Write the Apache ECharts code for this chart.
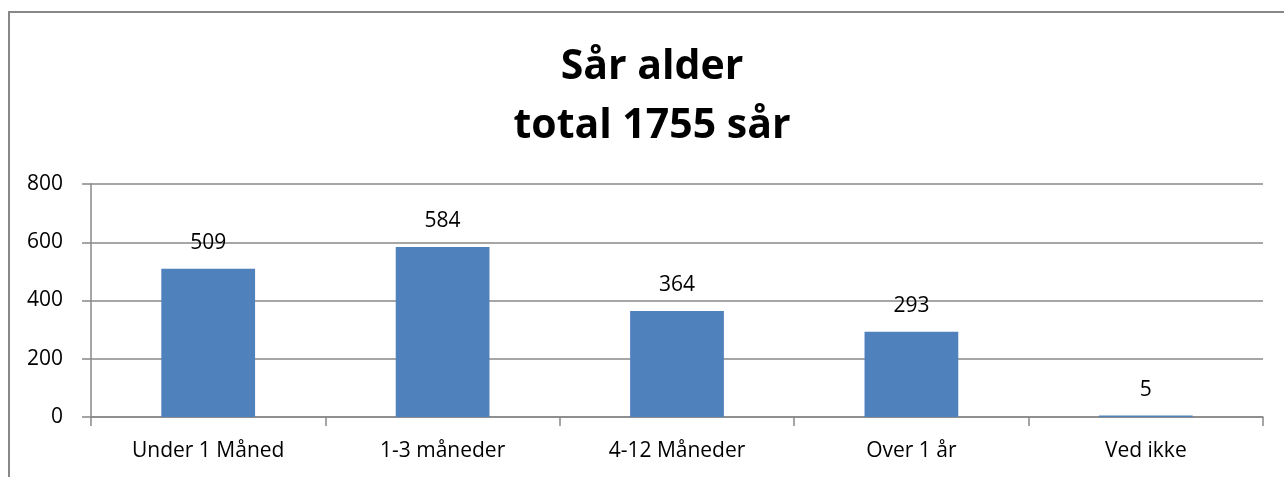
<!DOCTYPE html>
<html>
<head>
<meta charset="utf-8">
<script src="https://cdn.jsdelivr.net/npm/echarts@6/dist/echarts.min.js"></script>
<style>html,body{margin:0;padding:0;background:#fff;}#c{width:1284px;height:477px;}</style>
</head>
<body>
<div id="c"></div>
<script>
const categories = ["Under 1 Måned", "1-3 måneder", "4-12 Måneder", "Over 1 år", "Ved ikke"];
const values = [509, 584, 364, 293, 5];
const titleLines = ["Sår alder", "total 1755 sår"];

const chart = echarts.init(document.getElementById('c'));
const font = "'Open Sans', 'Noto Sans', sans-serif";
chart.setOption({
  animation: false,
  backgroundColor: '#fff',
  title: {
    text: titleLines.join('\n'),
    left: 647,
    textAlign: 'center',
    top: 33,
    textStyle: { fontFamily: font, fontSize: 41, fontWeight: 'bold', color: '#000', lineHeight: 59 }
  },
  graphic: [{
    type: 'rect', shape: { x: 9, y: 12, width: 1300, height: 500 },
    style: { fill: 'none', stroke: '#888', lineWidth: 2 }, silent: true
  }],
  grid: { left: 91, right: 21, top: 184, bottom: 60, containLabel: false },
  xAxis: {
    type: 'category', data: categories,
    axisLine: { show: true, lineStyle: { color: '#888', width: 1.5 } },
    axisTick: { show: true, length: 9, alignWithLabel: false, lineStyle: { color: '#888', width: 1.5 } },
    axisLabel: { color: '#000', fontFamily: font, fontSize: 21, margin: 24 }
  },
  yAxis: {
    type: 'value', min: 0, max: 800, interval: 200,
    axisLine: { show: true, lineStyle: { color: '#888', width: 1.5 } },
    axisTick: { show: true, length: 9, lineStyle: { color: '#888', width: 1.5 } },
    axisLabel: { color: '#000', fontFamily: font, fontSize: 21, margin: 28 },
    splitLine: { lineStyle: { color: '#888', width: 1.5 } }
  },
  series: [{
    type: 'bar', data: values, barWidth: '40%',
    itemStyle: { color: '#4f81bd' },
    label: { show: true, position: 'top', distance: 15, color: '#000', fontFamily: font, fontSize: 21 }
  }]
});
</script>
</body>
</html>
